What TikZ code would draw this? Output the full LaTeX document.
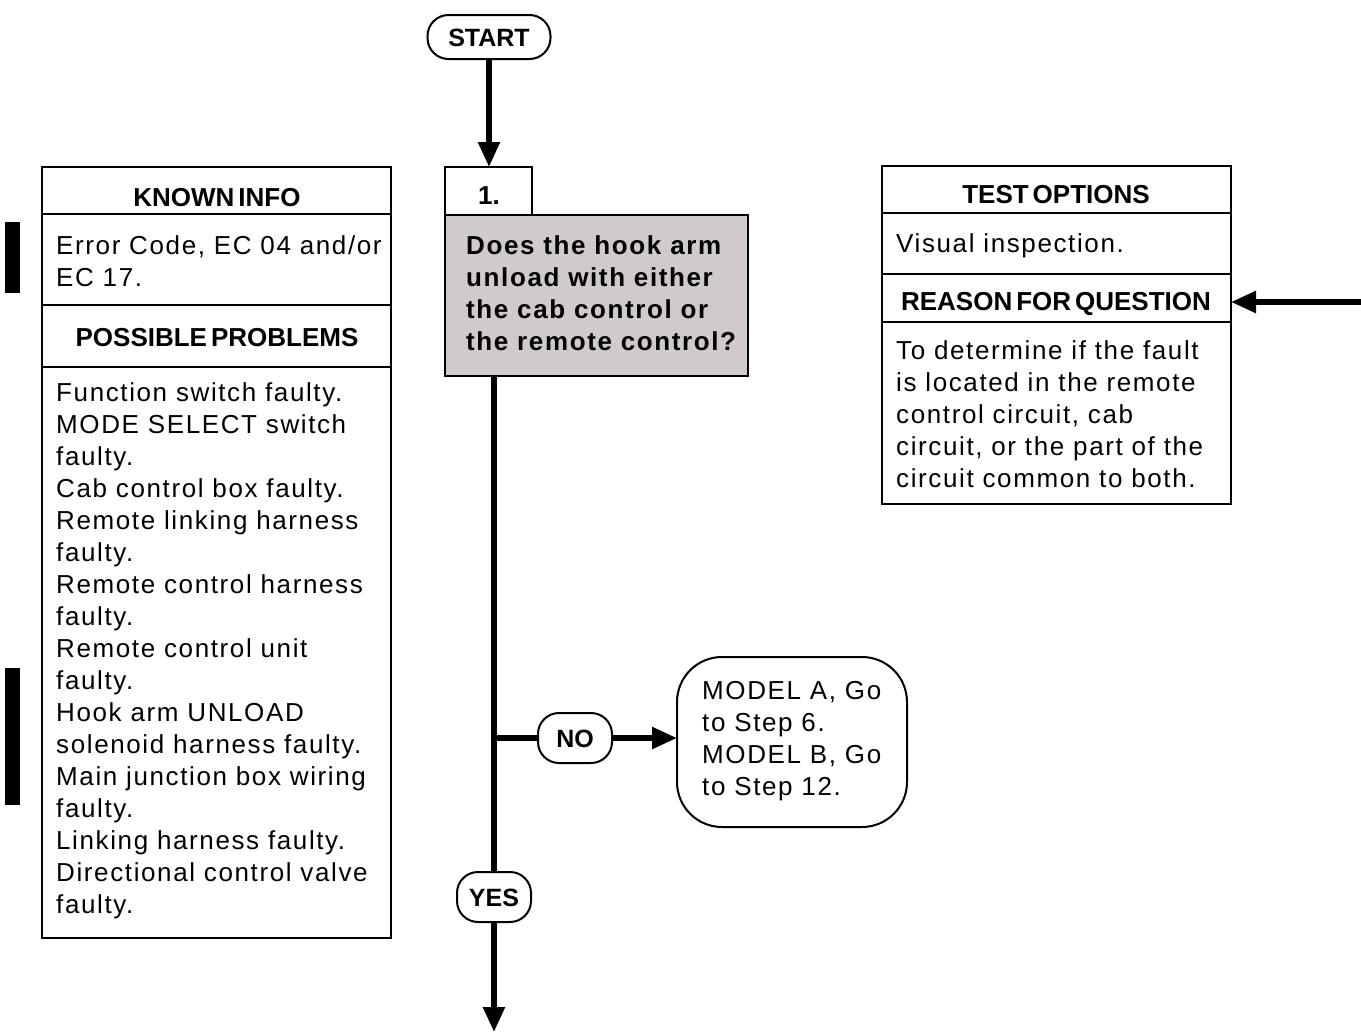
\documentclass[tikz,border=0pt]{standalone}
\usepackage{fontspec}
\setmainfont{Liberation Sans}
\newfontfamily\bodyfont[LetterSpace=6.2]{Liberation Sans}
\newfontfamily\headfont[WordSpace=0.55]{Liberation Sans}
\usetikzlibrary{arrows.meta}
\definecolor{qgray}{RGB}{208,202,202}
\begin{document}
\begin{tikzpicture}[x=1pt,y=-1pt,
  frame/.style={draw, line width=2pt, inner sep=0pt, outer sep=0pt, anchor=north west},
  hdr/.style={font=\headfont\bfseries\fontsize{26}{32}\selectfont, inner sep=0pt, text height=18.6pt, text depth=0pt},
  txt/.style={font=\bodyfont\fontsize{26}{32}\selectfont, align=left, inner sep=0pt, anchor=north west},
  qtxt/.style={txt, font=\bodyfont\bfseries\fontsize{26}{32}\selectfont},
  pill/.style={draw, line width=2pt, rounded corners=21pt, inner sep=0pt, fill=white,
    font=\headfont\bfseries\fontsize{25}{30}\selectfont, text height=18pt, text depth=0pt},
  flow/.style={line width=5.5pt},
  arr/.style={flow, -{Triangle[length=25pt,width=21pt]}},
]
\useasboundingbox (0,0) rectangle (1361,1034);

% change bars
\fill (5,222) rectangle (20,293);
\fill (5,668) rectangle (20,805);

% left panel
\node[frame, minimum width=349, minimum height=47] (kih) at (42,167) {};
\node[frame, minimum width=349, minimum height=91] (kib) at (42,214) {};
\node[frame, minimum width=349, minimum height=62] (pph) at (42,305) {};
\node[frame, minimum width=349, minimum height=571] (ppb) at (42,367) {};
\node[hdr] (kit) at (217,197) {KNOWN INFO};
\node[txt] (kix) at (56,231.6) {\strut Error Code, EC 04 and/or\\EC 17.};
\node[hdr] (ppt) at (217,337) {POSSIBLE PROBLEMS};
\node[txt] (ppx) at (56,379) {\strut Function switch faulty.\\MODE SELECT switch\\faulty.\\Cab control box faulty.\\Remote linking harness\\faulty.\\Remote control harness\\faulty.\\Remote control unit\\faulty.\\Hook arm UNLOAD\\solenoid harness faulty.\\Main junction box wiring\\faulty.\\Linking harness faulty.\\Directional control valve\\faulty.};

% step 1
\node[frame, minimum width=87, minimum height=48] (s1) at (445,167) {};
\node[hdr] (s1t) at (489,195) {1.};
\node[frame, fill=qgray, minimum width=303, minimum height=161] (q) at (445,215) {};
\node[qtxt] (qx) at (466,232.3) {\strut Does the hook arm\\unload with either\\the cab control or\\the remote control?};

% right panel
\node[frame, minimum width=349, minimum height=47] (toh) at (882,166) {};
\node[frame, minimum width=349, minimum height=61] (tob) at (882,213) {};
\node[frame, minimum width=349, minimum height=48] (rqh) at (882,274) {};
\node[frame, minimum width=349, minimum height=182] (rqb) at (882,322) {};
\node[hdr] (tot) at (1056,194) {TEST OPTIONS};
\node[txt] (tox) at (896,229.6) {\strut Visual inspection.};
\node[hdr] (rqt) at (1056,301) {REASON FOR QUESTION};
\node[txt] (rqx) at (896,336.6) {\strut To determine if the fault\\is located in the remote\\control circuit, cab\\circuit, or the part of the\\circuit common to both.};

% result box
\node[draw, line width=2pt, rounded corners=45pt, minimum width=230, minimum height=170, anchor=north west, inner sep=0pt, outer sep=0pt] (model) at (677,657) {};
\node[txt] (modelx) at (702,676.6) {\strut MODEL A, Go\\to Step 6.\\MODEL B, Go\\to Step 12.};

% pills
\node[pill, minimum width=123, minimum height=44] (start) at (489,37) {START};
\node[pill, minimum width=74, minimum height=50] (no) at (575,738) {NO};
\node[pill, minimum width=74, minimum height=50] (yes) at (494,897) {YES};

% connectors
\coordinate (jn) at (494,738);
\coordinate (bot) at (494,1032);
\coordinate (rin) at (1361,302);
\draw[arr] (start.south) -- (start.south |- s1.north);
\draw[flow] (q.south -| yes.north) -- (yes.north);
\draw[flow] (jn) -- (no.west);
\draw[arr] (no.east) -- (no.east -| model.west);
\draw[arr] (yes.south) -- (bot);
\draw[arr] (rin) -- (rin -| rqh.east);
\end{tikzpicture}
\end{document}
